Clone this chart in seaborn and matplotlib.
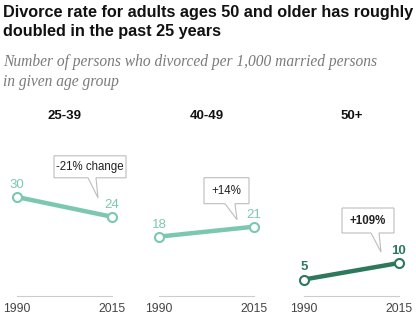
import numpy as np
import pandas as pd
import seaborn as sns
import matplotlib
matplotlib.use("Agg")
import matplotlib.pyplot as plt
from matplotlib.patches import Polygon
from matplotlib.transforms import IdentityTransform

# Divorces per 1,000 married persons, by age group
years = [1990, 2015]
groups = ["25-39", "40-49", "50+"]
rate_25_39 = [30, 24]
rate_40_49 = [18, 21]
rate_50_plus = [5, 10]
change_labels = ["-21% change", "+14%", "+109%"]

rates = [rate_25_39, rate_40_49, rate_50_plus]
df = pd.DataFrame({
    "group": np.repeat(groups, len(years)),
    "year": years * len(groups),
    "rate": [v for r in rates for v in r],
})

sns.set_theme(style="white")
plt.rcParams["font.family"] = ["Liberation Sans", "DejaVu Sans"]

W, H = 416, 324
fig = plt.figure(figsize=(W / 100, H / 100), dpi=100)
fig.patch.set_facecolor("white")

fig.text(3 / W, 1 - 5 / H,
         "Divorce rate for adults ages 50 and older has roughly\ndoubled in the past 25 years",
         ha="left", va="top", fontsize=11.7, fontweight="bold", color="#111111",
         linespacing=1.32)
fig.text(3 / W, 1 - 54 / H,
         "Number of persons who divorced per 1,000 married persons\nin given age group",
         ha="left", va="top", fontsize=11.2, style="italic", color="#7a7a7a",
         family=["Liberation Serif", "DejaVu Serif"], linespacing=1.3)

light = "#7cc8ae"
dark = "#2c7a5b"
colors = [light, light, dark]
bold_vals = [False, False, True]
bold_box = [False, False, True]
lefts = [17, 159, 304]
width_px = 95
bottom_px = 296
height_px = 132  # 0..40 on the rate scale

# callout geometry in pixels relative to the 2015 point (x right, y down)
boxes = [(-58, 14, -61, -39), (-50, -5, -49, -23), (-57, -5, -55, -30)]
tails = [(-24, -16, -14, -19), (-29, -19, -17, -7), (-28, -20, -18, -11)]

for i, g in enumerate(groups):
    ax = fig.add_axes([lefts[i] / W, 1 - bottom_px / H, width_px / W, height_px / H])
    sub = df[df["group"] == g]
    sns.lineplot(data=sub, x="year", y="rate", ax=ax, color=colors[i],
                 linewidth=3.2, marker="o", markersize=6.5,
                 markerfacecolor="white", markeredgecolor=colors[i],
                 markeredgewidth=1.5, legend=False)
    for ln in ax.lines:
        ln.set_clip_on(False)
        ln.set_zorder(3)
    ax.set_xlim(1990, 2015)
    ax.set_ylim(0, 40)
    ax.set_xticks(years)
    ax.set_xticklabels([str(y) for y in years])
    ax.set_yticks([])
    ax.set_xlabel("")
    ax.set_ylabel("")
    ax.set_facecolor("none")
    for s in ["top", "left", "right"]:
        ax.spines[s].set_visible(False)
    ax.spines["bottom"].set_color("#cccccc")
    ax.spines["bottom"].set_linewidth(0.8)
    ax.tick_params(axis="x", direction="in", length=5, width=0.8,
                   color="#cccccc", labelcolor="#444444", labelsize=8.8, pad=5)

    ax.text(0.5, (bottom_px - 116) / height_px, g, transform=ax.transAxes,
            ha="center", va="center", fontsize=9.5, fontweight="bold",
            color="#111111")

    for yr, v in zip(years, rates[i]):
        ax.annotate(str(v), (yr, v), xytext=(0, 12), textcoords="offset pixels",
                    ha="center", va="center", fontsize=9.5, color=colors[i],
                    fontweight="bold" if bold_vals[i] else "normal",
                    annotation_clip=False)

    # speech-bubble callout with the percent change
    px, py = ax.transData.transform((years[1], rates[i][1]))
    x0, x1, y0, y1 = boxes[i]
    tb0, tb1, tx, ty = tails[i]
    pts = [(x0, y0), (x1, y0), (x1, y1), (tb1, y1), (tx, ty), (tb0, y1), (x0, y1)]
    disp = [(px + dx, py - dy) for dx, dy in pts]
    poly = Polygon(disp, closed=True, facecolor="white", edgecolor="#bdbdbd",
                   linewidth=0.8, transform=IdentityTransform(), zorder=5)
    fig.add_artist(poly)
    cx = px + (x0 + x1) / 2
    cy = py - (y0 + y1) / 2
    fig.text(cx / W, cy / H, change_labels[i], ha="center", va="center",
             fontsize=8.3, color="#222222", zorder=6,
             fontweight="bold" if bold_box[i] else "normal")

fig.savefig("out.png", dpi=100, facecolor="white")
